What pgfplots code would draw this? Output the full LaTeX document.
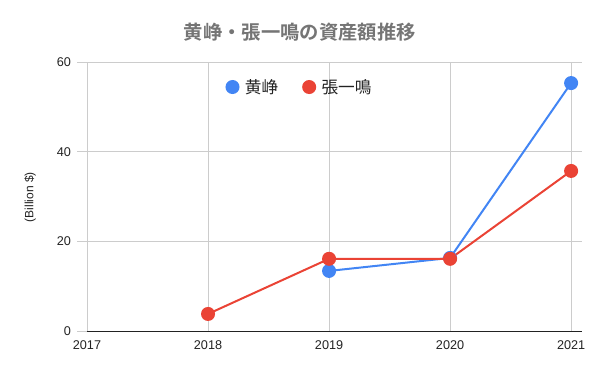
\documentclass[border=0pt]{standalone}
\usepackage{pgfplots}
\pgfplotsset{compat=1.18}
\usepackage{fontspec}
\setmainfont{Liberation Sans}
\newfontfamily\cjk{Noto Sans CJK JP}
\newfontfamily\cjkb{Noto Sans CJK JP Bold}
\definecolor{gblue}{HTML}{4285F4}
\definecolor{gred}{HTML}{EA4335}
\definecolor{gridc}{HTML}{CCCCCC}
\definecolor{titlec}{HTML}{757575}
\definecolor{textc}{HTML}{222222}
\begin{document}
\begin{tikzpicture}
\path[use as bounding box] (0pt,0pt) rectangle (450pt,278.25pt);
\begin{axis}[
  at={(65.25pt,30pt)}, anchor=origin,
  scale only axis,
  width=371.25pt, height=201.75pt,
  xmin=2017, xmax=2021.09,
  ymin=0, ymax=60,
  xtick={2017,2018,2019,2020,2021},
  ytick={0,20,40,60},
  /pgf/number format/1000 sep={},
  /pgf/number format/assume math mode=true,
  tick label style={font=\fontsize{9.5}{11}\selectfont, text=textc},
  xmajorgrids, ymajorgrids,
  grid style={gridc, line width=0.6pt},
  axis x line*=bottom, axis y line*=left,
  x axis line style={draw=textc, line width=0.7pt, -},
  y axis line style={draw=none},
  major x tick style={draw=none},
  major y tick style={draw=gridc, line width=0.6pt},
  ytick align=outside, major tick length=7.5pt,
  xticklabel style={yshift=-4pt},
  yticklabel style={xshift=-1pt},
  ylabel={(Billion \$)},
  ylabel style={font=\fontsize{9}{11}\selectfont, text=textc, at={(axis description cs:-0.115,0.498)}, anchor=center},
  title={\cjkb 黄峥・張一鳴の資産額推移},
  title style={font=\fontsize{14.5}{16}\selectfont, text=titlec, at={(axis description cs:0.43,1.08)}, anchor=center},
  legend columns=2,
  legend style={draw=none, fill=none, at={(axis description cs:0.43,0.907)}, anchor=center,
    font=\cjk\fontsize{12.5}{14}\selectfont, text=textc,
    /tikz/every even column/.append style={column sep=16pt},
    /tikz/every odd column/.append style={column sep=2pt}},
  legend image code/.code={\fill[#1] (0.3em,0) circle (4.5pt);},
  every axis plot/.append style={line width=1.5pt, mark=*, mark size=4.5pt},
]
\addplot[gblue, mark options={fill=gblue, draw=gblue}] coordinates {(2019,13.4) (2020,16.3) (2021,55.3)};
\addlegendentry{黄峥}
\addplot[gred, mark options={fill=gred, draw=gred}] coordinates {(2018,3.8) (2019,16.1) (2020,16.1) (2021,35.7)};
\addlegendentry{張一鳴}
\end{axis}
\end{tikzpicture}
\end{document}
